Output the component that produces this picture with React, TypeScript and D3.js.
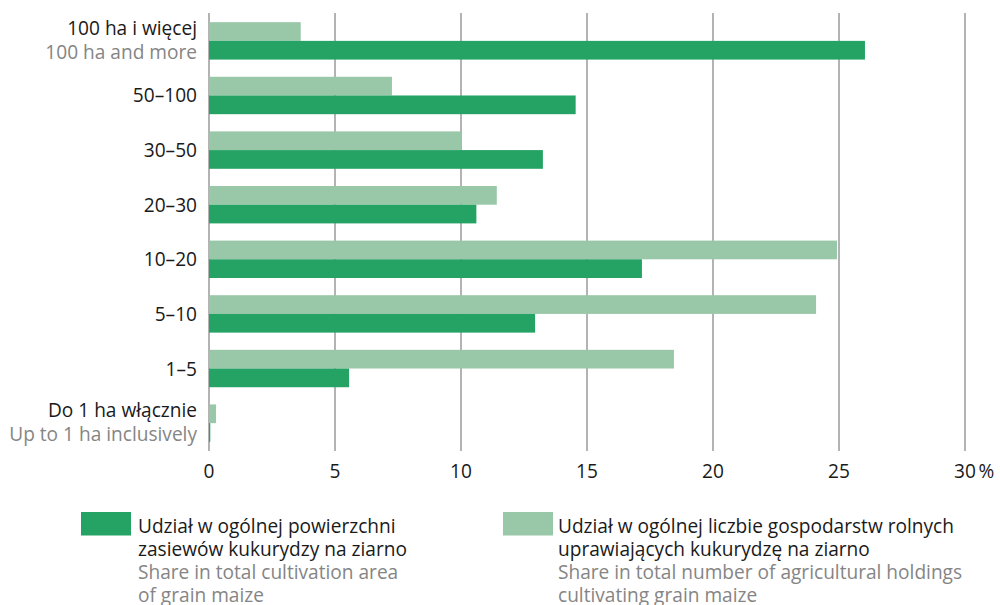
import React from "react";
import * as d3 from "d3";

const categoriesPl = ["100 ha i więcej", "50–100", "30–50", "20–30", "10–20", "5–10", "1–5", "Do 1 ha włącznie"];
const categoriesEn = ["100 ha and more", "", "", "", "", "", "", "Up to 1 ha inclusively"];
const areaShare = [26.03, 14.55, 13.25, 10.61, 17.18, 12.94, 5.56, 0.05];
const holdingsShare = [3.64, 7.26, 10.0, 11.42, 24.92, 24.09, 18.45, 0.28];
const xTicks = [0, 5, 10, 15, 20, 25, 30];
const legendArea = ["Udział w ogólnej powierzchni", "zasiewów kukurydzy na ziarno", "Share in total cultivation area", "of grain maize"];
const legendHoldings = ["Udział w ogólnej liczbie gospodarstw rolnych", "uprawiających kukurydzę na ziarno", "Share in total number of agricultural holdings", "cultivating grain maize"];

const DARK = "#25a365";
const LIGHT = "#99c8a9";
const GRID = "#8a8a8a";
const BLACK = "#1a1a1a";
const GRAY = "#858585";
const FONT = "'Open Sans', sans-serif";

export default function App() {
  const W = 1000, H = 605;
  const x = d3.scaleLinear().domain([0, 30]).range([209, 965]);
  const y = d3.scaleBand<string>().domain(categoriesPl).range([13, 451]).paddingInner(0.315).paddingOuter(0.168);
  const bw = y.bandwidth() / 2;
  const fs = 19.1;
  const lfs = 19.1;

  return (
    <svg width={W} height={H} style={{ position: "absolute", left: 0, top: 0, fontFamily: FONT }}>
      <rect width={W} height={H} fill="#fff" />
      {xTicks.map((t) => (
        <line key={t} x1={x(t)} x2={x(t)} y1={13} y2={451} stroke={GRID} strokeWidth={1.3} />
      ))}
      {categoriesPl.map((c, i) => {
        const y0 = y(c)!;
        return (
          <g key={c}>
            <rect x={x(0)} y={y0} width={x(holdingsShare[i]) - x(0)} height={bw} fill={LIGHT} />
            <rect x={x(0)} y={y0 + bw} width={x(areaShare[i]) - x(0)} height={bw} fill={DARK} />
          </g>
        );
      })}
      {categoriesPl.map((c, i) => {
        const cy = y(c)! + y.bandwidth() / 2;
        const two = categoriesEn[i] !== "";
        return (
          <g key={"l" + c} fontSize={fs} textAnchor="end">
            {two ? (
              <>
                <text x={197} y={cy - 6} fill={BLACK}>{c}</text>
                <text x={197} y={cy + 18} fill={GRAY}>{categoriesEn[i]}</text>
              </>
            ) : (
              <text x={197} y={cy + 7} fill={BLACK}>{c}</text>
            )}
          </g>
        );
      })}
      {xTicks.map((t) => (
        <g key={"t" + t} fontSize={fs} fill={BLACK}>
          <text x={x(t)} y={478} textAnchor="middle">{t}</text>
          {t === 30 && <text x={x(t) + 13.5} y={478} textAnchor="start">%</text>}
        </g>
      ))}
      <g fontSize={lfs}>
        <rect x={81} y={512} width={50} height={23.5} fill={DARK} />
        {legendArea.map((s, i) => (
          <text key={s} x={138} y={532.5 + i * 23} fill={i < 2 ? BLACK : GRAY}>{s}</text>
        ))}
        <rect x={503} y={512} width={50} height={23.5} fill={LIGHT} />
        {legendHoldings.map((s, i) => (
          <text key={s} x={558} y={532.5 + i * 23} fill={i < 2 ? BLACK : GRAY}>{s}</text>
        ))}
      </g>
    </svg>
  );
}
